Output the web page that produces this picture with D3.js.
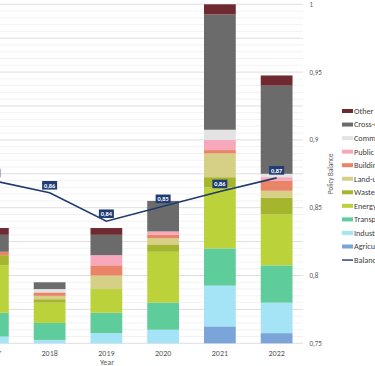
<!DOCTYPE html>
<html>
<head>
  <meta charset="utf-8">
  <script src="https://d3js.org/d3.v7.min.js"></script>
  <style type="text/css">
body{
  margin: 0;
  background: #ffffff;
}
svg{
  display: block;
  font-family: Carlito, Lato, "Open Sans", sans-serif;
}
.tick-label{
  font-size: 8px;
  fill: #595959;
}
.legend text{
  font-size: 8.2px;
  fill: #404040;
}
  </style>
</head>
<body>
<script type="text/javascript">
// data
var years = ["2017", "2018", "2019", "2020", "2021", "2022"];
var sectors = ["Agriculture", "Industry", "Transport", "Energy", "Waste", "Land-use",
               "Buildings", "Public awareness", "Communication", "Cross-cutting", "Other"];
var agriculture   = [0, 0, 0, 0, 5, 3];
var industry      = [2, 1, 3, 4, 12, 9];
var transport     = [7, 5, 6, 8, 11, 11];
var energy        = [14, 6, 7, 15, 18, 15];
var waste         = [3, 1, 0, 2, 3, 5];
var landUse       = [0, 1, 4, 2, 7, 2];
var buildings     = [1, 1, 3, 1, 1, 3];
var publicAware   = [0, 0, 3, 1, 3, 1];
var communication = [0, 1, 0, 0, 3, 1];
var crossCutting  = [5, 2, 6, 9, 34, 26];
var other         = [2, 0, 2, 0, 3, 3];
var balance       = [0.870, 0.861, 0.840, 0.851, 0.862, 0.872];
var rightTicks    = [0.75, 0.8, 0.85, 0.9, 0.95, 1];

var colors = ["#7ba5d8", "#a5e3f7", "#5fcc9c", "#bcd23b", "#a6b52e", "#d6cf86",
              "#ea8468", "#f7a8bd", "#e3e3e3", "#6b6b6b", "#6e2a30"];

var series = [agriculture, industry, transport, energy, waste, landUse,
              buildings, publicAware, communication, crossCutting, other];

var table = years.map(function(y, i){
  var row = {year: y};
  sectors.forEach(function(s, j){ row[s] = series[j][i]; });
  return row;
});

var width = 375, height = 366;
var plotRight = 303;

var svg = d3.select("body")
  .append("svg")
  .attr("width", width)
  .attr("height", height);

var x = d3.scaleBand()
  .domain(years)
  .range([-35.5, 305])
  .paddingInner(0.44)
  .paddingOuter(0.22);

var y = d3.scaleLinear()
  .domain([0, 100])
  .range([343.3, 4.3]);

var yR = d3.scaleLinear()
  .domain([0.75, 1])
  .range([343.3, 4.3]);

var color = d3.scaleOrdinal()
  .domain(sectors)
  .range(colors);

// minor and major gridlines
svg.append("g")
  .selectAll("line")
  .data(d3.range(0, 101, 2).filter(function(v){ return v % 10 !== 0; }))
  .enter().append("line")
  .attr("x1", 0).attr("x2", plotRight)
  .attr("y1", function(d){ return y(d); })
  .attr("y2", function(d){ return y(d); })
  .attr("stroke", "#f2f2f2")
  .attr("stroke-width", 1);

svg.append("g")
  .selectAll("line")
  .data(d3.range(0, 101, 10))
  .enter().append("line")
  .attr("x1", 0).attr("x2", plotRight)
  .attr("y1", function(d){ return y(d); })
  .attr("y2", function(d){ return y(d); })
  .attr("stroke", "#dedede")
  .attr("stroke-width", 1);

// stacked bars
var stack = d3.stack().keys(sectors)(table);

svg.append("g")
  .selectAll("g")
  .data(stack)
  .enter().append("g")
  .attr("fill", function(d){ return color(d.key); })
  .selectAll("rect")
  .data(function(d){ return d; })
  .enter().append("rect")
  .attr("x", function(d){ return x(d.data.year); })
  .attr("width", x.bandwidth())
  .attr("y", function(d){ return y(d[1]); })
  .attr("height", function(d){ return y(d[0]) - y(d[1]); });

// balance line
var cx = function(i){ return x(years[i]) + x.bandwidth() / 2; };

svg.append("path")
  .datum(balance)
  .attr("fill", "none")
  .attr("stroke", "#1f3a6b")
  .attr("stroke-width", 1.6)
  .attr("d", d3.line()
    .x(function(d, i){ return cx(i); })
    .y(function(d){ return yR(d); }));

var fmt = function(v){ return d3.format(".2f")(v).replace(".", ","); };

var lab = svg.append("g")
  .selectAll("g")
  .data(balance)
  .enter().append("g")
  .attr("transform", function(d, i){ return "translate(" + cx(i) + "," + (yR(d) - 7.5) + ")"; });

lab.append("rect")
  .attr("x", -7.5).attr("y", -4.3)
  .attr("width", 15).attr("height", 8.6)
  .attr("fill", "#1f3d74");

lab.append("text")
  .attr("text-anchor", "middle")
  .attr("dy", "0.35em")
  .attr("fill", "#ffffff")
  .attr("font-weight", "bold")
  .style("font-size", "6.3px")
  .text(function(d){ return fmt(d); });

// x axis labels
svg.append("g")
  .selectAll("text")
  .data(years)
  .enter().append("text")
  .attr("class", "tick-label")
  .attr("x", function(d){ return x(d) + x.bandwidth() / 2; })
  .attr("y", 355.5)
  .attr("text-anchor", "middle")
  .text(function(d){ return d; });

svg.append("text")
  .attr("class", "tick-label")
  .attr("x", 107)
  .attr("y", 365)
  .attr("text-anchor", "middle")
  .text("Year");

// right axis
svg.append("g")
  .selectAll("text")
  .data(rightTicks)
  .enter().append("text")
  .attr("class", "tick-label")
  .style("font-size", "7px")
  .attr("x", 309.5)
  .attr("y", function(d){ return yR(d); })
  .attr("dy", "0.35em")
  .text(function(d){ return String(d).replace(".", ","); });

svg.append("text")
  .attr("transform", "translate(333," + ((y(0) + y(100)) / 2) + ") rotate(-90)")
  .attr("text-anchor", "middle")
  .style("font-size", "7px")
  .attr("fill", "#595959")
  .text("Policy Balance");

// legend
var legendItems = sectors.slice().reverse().concat(["Balance"]);

var legend = svg.selectAll(".legend")
  .data(legendItems)
  .enter().append("g")
  .attr("class", "legend")
  .attr("transform", function(d, i){ return "translate(342," + (111 + i * 13.55) + ")"; });

legend.each(function(d){
  var g = d3.select(this);
  if (d === "Balance") {
    g.append("line")
      .attr("x1", 0).attr("x2", 11)
      .attr("stroke", "#1f3a6b")
      .attr("stroke-width", 1.4);
  } else {
    g.append("rect")
      .attr("x", 0).attr("y", -2)
      .attr("width", 11).attr("height", 4)
      .attr("fill", color(d));
  }
});

legend.append("text")
  .attr("x", 12)
  .attr("dy", "0.35em")
  .text(function(d){ return d; });
</script>
</body>
</html>
